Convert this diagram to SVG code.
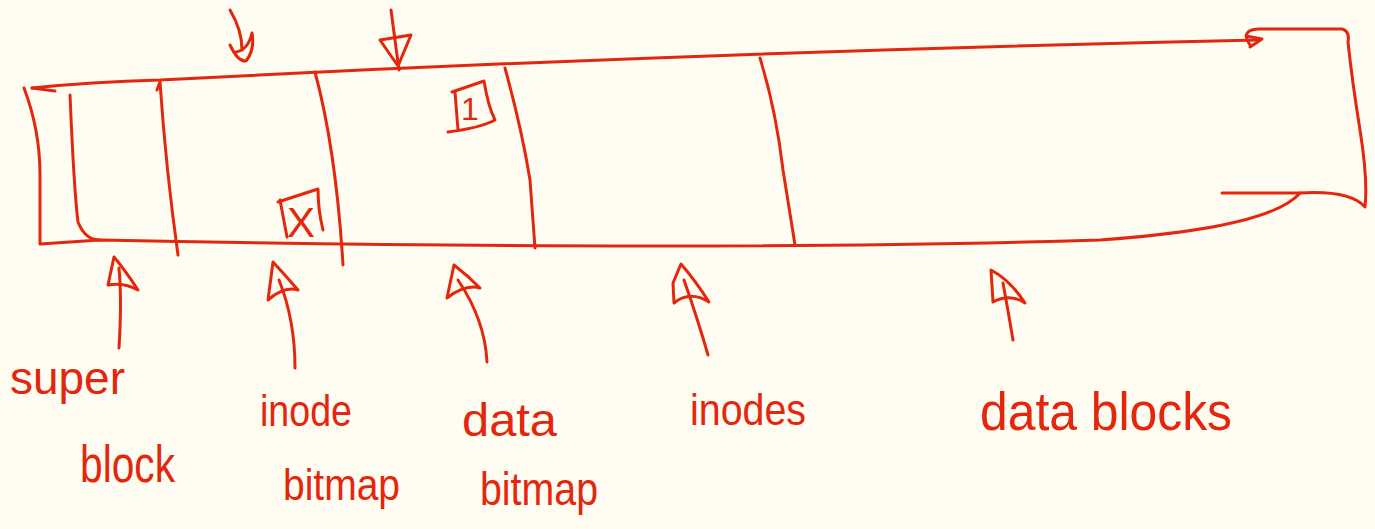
<svg xmlns="http://www.w3.org/2000/svg" width="1375" height="529" viewBox="0 0 1375 529">
<style>
.s{fill:none;stroke:#E4260E;stroke-width:3;stroke-linecap:round;stroke-linejoin:round}
.t{font-family:"Liberation Sans","DejaVu Sans",sans-serif;fill:#E4260E}
</style>
<rect width="1375" height="529" fill="#FFFDF1"/>
<g id="strip">
<path class="s" d="M32,88 Q90,82 160,80 Q700,52 1258,40"/>
<path class="s" d="M1246,36 L1262,39 L1250,47"/>
<path class="s" d="M1250,45 Q1240,30 1258,29 L1342,29 Q1350,31 1348,42 Q1352,80 1360,130 Q1368,180 1365,207 Q1350,190 1300,193 L1222,193"/>
<path class="s" d="M24,88 Q40,130 40,175 L40,244 L100,240 Q700,252 1100,240 Q1270,228 1300,193"/>
<path class="s" d="M32,88 L55,91"/>
</g>
<g id="dividers">
<path class="s" d="M70,95 Q74,190 78,222 Q85,240 100,240"/>
<path class="s" d="M157,90 L160,82 Q166,170 178,255"/>
<path class="s" d="M315,72 Q336,150 343,265"/>
<path class="s" d="M505,68 Q522,130 530,180 L535,248"/>
<path class="s" d="M760,58 Q776,110 783,170 L795,245"/>
</g>
<g id="marks">
<path class="s" d="M455,92 L458,130 M452,92 L484,81 Q488,106 495,120 Q480,128 448,132"/>
<text class="t" x="461" y="120" font-size="32">1</text>
<path class="s" d="M278,202 L318,189 Q318,210 323,230 M280,200 L287,237"/>
<text class="t" x="287" y="237" font-size="42">X</text>
</g>
<g id="connectors">
<path class="s" d="M230,10 Q242,30 242,50"/>
<path class="s" d="M230,45 Q238,62 246,61 Q255,50 252,33 Q248,50 236,52"/>
<path class="s" d="M391,10 L399,70"/>
<path class="s" d="M380,40 L411,35 L398,66 Z"/>
<path class="s" d="M119,348 Q122,300 119,268"/>
<path class="s" d="M108,285 L114,257 Q125,270 138,290 Q124,282 108,285"/>
<path class="s" d="M295,368 Q295,320 279,280"/>
<path class="s" d="M268,300 L273,262 Q285,275 298,290 Q284,286 268,300"/>
<path class="s" d="M487,362 Q485,320 458,280"/>
<path class="s" d="M447,298 L454,265 Q467,275 480,288 Q465,284 447,298"/>
<path class="s" d="M708,355 Q698,320 684,280"/>
<path class="s" d="M674,303 L673,283 L681,264 Q695,280 709,302 Q690,290 674,303"/>
<path class="s" d="M1013,340 Q1008,310 1003,283"/>
<path class="s" d="M993,302 L991,270 Q1010,280 1025,303 Q1010,293 993,302"/>
</g>
<g id="labels">
<text class="t" x="10" y="394" font-size="46" textLength="115" lengthAdjust="spacingAndGlyphs">super</text>
<text class="t" x="80" y="482" font-size="52" textLength="95" lengthAdjust="spacingAndGlyphs">block</text>
<text class="t" x="260" y="426" font-size="44" textLength="92" lengthAdjust="spacingAndGlyphs">inode</text>
<text class="t" x="283" y="500" font-size="44" textLength="117" lengthAdjust="spacingAndGlyphs">bitmap</text>
<text class="t" x="462" y="436" font-size="46" textLength="95" lengthAdjust="spacingAndGlyphs">data</text>
<text class="t" x="480" y="505" font-size="46" textLength="118" lengthAdjust="spacingAndGlyphs">bitmap</text>
<text class="t" x="690" y="425" font-size="44" textLength="116" lengthAdjust="spacingAndGlyphs">inodes</text>
<text class="t" x="980" y="430" font-size="54" textLength="252" lengthAdjust="spacingAndGlyphs">data blocks</text>
</g>
</svg>
